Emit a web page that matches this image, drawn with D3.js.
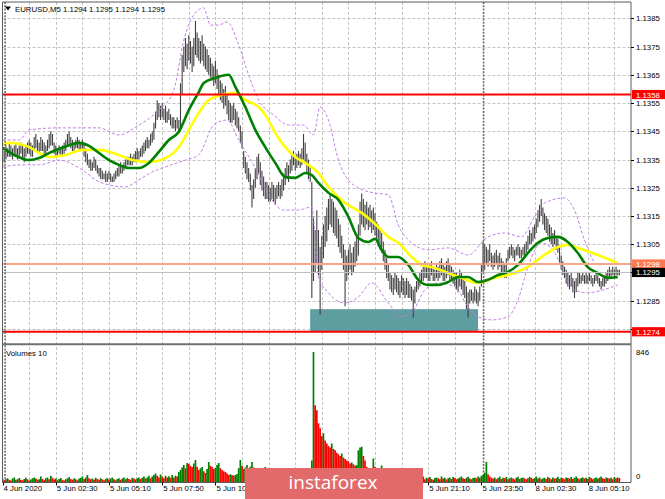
<!DOCTYPE html>
<html><head><meta charset="utf-8">
<script src="https://cdn.jsdelivr.net/npm/d3@7"></script>
<style>
html,body{margin:0;padding:0;background:#fff;overflow:hidden;}
svg{display:block;font-family:"Liberation Sans",Arial,sans-serif;}
</style></head><body>
<svg id="c" width="665" height="499"></svg>
<script>
// ---------------- DATA (prices stored as pips above BASE) ----------------
const BASE = 1.1200;
const symbolTitle = "EURUSD,M5  1.1294 1.1295 1.1294 1.1295";
const highs = [
139,138,140,139,141,140,139,140,141,139, 140,141,140,139,140,141,142,141,140,143,
144,142,141,143,142,141,140,142,144,145, 144,141,140,139,140,139,140,141,142,144,
145,143,142,141,142,143,142,141,142,141, 139,137,135,135,134,136,135,133,132,132,
131,130,131,130,131,130,129,130,131,132, 133,134,133,134,135,136,136,137,136,137,
138,139,138,139,140,141,142,143,142,144, 145,148,152,156,155,154,155,153,154,152,
153,151,150,150,149,150,149,162,172,175, 178,176,179,177,175,178,184,180,178,177,
179,176,175,174,172,171,169,168,170,167, 165,163,162,160,161,158,156,155,154,155,
153,152,150,147,145,138,136,134,132,130, 126,128,132,136,137,134,131,129,127,127,
126,125,127,126,125,126,127,126,128,130, 132,134,133,135,137,138,136,137,138,137,
139,144,141,137,135,133,127,115,110,117, 110,104,108,112,115,118,121,123,121,120,
118,117,114,112,108,105,103,101,103,105, 102,104,106,108,112,120,123,121,119,120,
118,119,117,118,116,113,112,110,109,106, 103,100,98,95,94,93,95,94,93,92,
94,93,92,93,92,91,90,89,90,92, 93,95,96,97,99,98,97,98,99,97,
96,98,97,99,100,98,97,99,100,98, 97,96,95,95,94,96,95,93,92,90,
88,89,89,88,90,89,88,90,98,106, 105,104,103,105,102,101,102,103,101,102,
100,99,98,100,103,104,105,104,103,104, 105,104,103,104,105,106,108,110,109,111,
112,114,117,119,121,118,116,115,114,112, 111,109,110,108,107,104,101,99,97,96,
95,94,95,93,92,93,95,95,94,95, 94,95,94,95,94,93,94,95,94,93,
92,93,94,95,96,97,96,97,96,97, 96,96];
const lows = [
133,134,135,136,136,136,135,137,136,135, 136,137,135,134,136,137,137,136,136,138,
139,138,137,138,138,137,137,138,139,140, 140,137,136,136,137,136,136,137,138,140,
140,139,138,138,139,139,138,138,138,136, 134,133,132,131,131,132,131,130,129,128,
128,128,127,127,128,127,127,127,128,129, 129,130,130,131,132,133,133,133,133,134,
134,135,135,136,136,137,138,139,139,140, 141,142,146,149,150,149,150,149,148,148,
149,147,146,146,145,146,145,145,158,166, 168,167,170,169,166,168,172,171,170,169,
170,168,167,166,165,164,163,161,162,160, 158,156,155,153,154,151,149,148,148,149,
147,146,145,141,139,132,130,128,127,124, 118,121,125,128,130,126,124,122,121,121,
120,120,121,120,119,121,122,121,122,124, 126,128,127,130,131,133,131,132,133,132,
133,135,134,130,128,127,86,92,95,98, 94,80,96,100,104,106,110,112,111,109,
108,107,104,102,100,96,83,92,94,96, 94,95,97,99,101,108,112,111,110,112,
110,111,109,110,108,106,104,103,102,99, 96,93,92,89,88,87,89,88,87,86,
88,87,86,87,86,86,85,79,84,88, 89,90,91,92,93,93,92,92,94,92,
92,93,92,93,94,92,92,93,94,92, 92,91,90,89,88,90,89,87,86,82,
79,84,85,84,85,84,83,85,90,95, 96,98,97,99,97,96,97,98,96,97,
95,94,93,93,99,100,101,100,99,101, 101,100,100,101,101,102,103,105,105,106,
107,109,111,113,115,112,110,109,108,106, 105,104,105,103,102,98,96,94,93,91,
90,89,90,88,86,88,90,91,91,92, 91,91,91,92,91,90,91,92,91,90,
89,90,90,91,92,93,93,94,93,94, 94,94];
const volumes = [
20,12,18,25,15,10,22,30,14,18, 26,15,12,20,28,18,10,16,24,30,
22,14,18,35,20,12,25,30,18,40, 28,16,22,12,20,26,15,10,18,24,
32,20,14,25,18,12,22,28,35,20, 30,45,25,18,22,15,28,20,14,24,
18,12,20,26,16,22,30,18,12,20, 25,15,22,30,18,26,20,14,28,22,
16,24,30,20,28,35,22,30,40,25, 35,45,55,40,30,48,35,25,40,30,
38,28,45,30,40,35,
65,78,95,110,90,124,118,105,98,120, 143,100,78,90,98,70,59,85,130,105,
98,85,91,110,124,90,78,70,65,55, 46,50,45,40,46,52,90,143,105,85,
95,110,85,100,130,95,80,85,70,65, 75,85,98,60,55,65,50,60,55,48,
65,60,52,70,62,58,50,64,58,45, 52,60,45,52,65,85,70,60,66,85,
140,846,500,467,382,350,300,317,270,251, 235,225,251,215,206,190,180,170,186,160,
150,140,135,120,127,115,105,110,206,225, 230,170,140,100,80,75,90,153,100,90,
80,75,108,70,65,
60,55,50,58,45,52,48,40,55,45, 50,42,38,46,40,35,44,38,42,36,
30,22,35,18,28,25,32,20,15,26, 30,24,18,35,22,28,16,25,30,20,
32,26,18,22,30,35,24,20,28,34, 22,18,26,30,24,35,28,40,45,
60,130,50,35,28,
22,30,18,26,35,20,28,24,32,18, 25,30,22,16,28,34,20,26,30,22,
18,24,32,28,20,26,35,22,30,18, 24,28,20,32,26,18,30,22,25,34,
20,28,24,18,30,26,22,32,20,28, 35,24,18,26,30,22,28,20,34,26,
18,24,30,22,28,36,24,20,30,26, 22,28,18,32,24,30,26];
// moving averages / bands: [bar index, pips above BASE]
const maGreen = [[0,139.1],[7,136.6],[16,134.8],[22,135.5],[28,137.3],[37,139.4],[46,140.9],[52,139.8],[58,137.3],[64,134.8],[70,133.1],[76,132.0],[82,132.0],[88,133.8],[94,137.7],[100,141.9],[106,144.8],[112,152.5],[118,158.9],[121,162.1],[128,163.9],[136,165.0],[140,160.7],[146,153.6],[152,145.5],[158,139.4],[164,133.8],[170,128.8],[176,128.5],[182,130.2],[186,129.5],[190,126.7],[196,123.2],[202,120.7],[208,114.7],[214,107.2],[220,105.8],[224,106.9],[228,103.0],[232,100.5],[238,100.5],[244,97.7],[250,92.4],[256,90.6],[262,90.6],[268,91.6],[274,93.4],[280,93.4],[286,91.6],[292,92.4],[298,94.1],[304,95.2],[310,97.7],[316,101.9],[322,105.5],[328,107.2],[334,107.6],[340,105.8],[346,101.9],[352,96.9],[358,94.8],[364,93.1],[370,93.4]];
const maYellow = [[0,140.2],[4,140.9],[16,139.4],[22,137.3],[28,135.9],[38,136.6],[48,138.4],[58,138.4],[70,136.6],[78,134.8],[88,134.1],[98,135.5],[106,139.4],[112,145.5],[118,151.5],[124,156.1],[132,157.9],[140,158.6],[146,156.1],[154,153.6],[158,150.8],[164,144.4],[170,139.4],[176,135.9],[182,133.8],[190,130.2],[196,125.3],[206,119.6],[216,116.1],[226,111.1],[232,107.6],[238,105.5],[246,100.5],[252,97.7],[260,96.6],[268,94.8],[276,93.1],[286,91.3],[296,93.1],[304,94.1],[316,97.0],[326,101.2],[334,104.0],[340,104.7],[346,103.7],[358,101.2],[370,98.4]];
const bandUpper = [[0,141.9],[10,141.9],[16,145.5],[34,146.2],[58,146.2],[70,143.7],[82,147.2],[94,152.5],[103,159.6],[109,177.3],[115,186.2],[121,188.7],[125,182.6],[130,182.6],[135,183.7],[142,175.6],[148,164.9],[154,156.1],[163,150.8],[172,147.2],[181,147.2],[187,143.7],[191,153.6],[196,149.0],[202,134.8],[211,126.0],[223,123.2],[232,122.5],[238,111.8],[246,105.5],[256,103.0],[268,103.7],[280,101.2],[292,107.6],[302,109.0],[312,107.6],[320,114.7],[326,119.6],[338,121.4],[344,117.1],[350,106.5],[358,97.7],[370,98.7]];
const bandLower = [[0,132.4],[10,133.1],[22,133.1],[34,134.8],[48,131.3],[58,127.1],[74,125.3],[82,127.8],[90,130.6],[98,132.4],[110,134.8],[118,136.6],[127,147.2],[135,149.0],[142,141.9],[151,133.1],[160,122.5],[169,117.1],[178,117.1],[186,118.2],[190,93.4],[196,87.8],[206,84.2],[214,86.3],[222,91.3],[232,84.2],[240,79.3],[246,80.7],[254,88.8],[262,91.3],[272,89.9],[280,82.8],[286,79.3],[294,78.2],[304,79.3],[310,85.3],[316,97.0],[324,105.5],[331,103.0],[337,95.9],[344,88.8],[352,87.8],[361,88.8],[370,90.6]];
const priceTicks = [1.1385,1.1375,1.1365,1.1355,1.1345,1.1335,1.1325,1.1315,1.1305,1.1295,1.1285,1.1275];
const timeLabels = ["4 Jun 2020","5 Jun 02:30","5 Jun 05:10","5 Jun 07:50","5 Jun 10:30","5 Jun 13:10","5 Jun 15:50","5 Jun 18:30","5 Jun 21:10","5 Jun 23:50","8 Jun 02:30","8 Jun 05:10"];
const levelRed = [1.1358, 1.1274];
const levelOrange = 1.1298;
const lastPrice = 1.1295;
const zone = {start:185, end:286, top:1.1282, bottom:1.1274};
const volMax = 846;
const daySeparators = [1.5, 289.3];

// ---------------- LAYOUT ----------------
const svg = d3.select("#c");
const L = 2.5, R = 631, mT = 2, mB = 343.5, vT = 345.5, vB = 482.5;
const LOGO = {x:245, y:468, w:178, h:31};
const N = highs.length;
const x = d3.scaleLinear().domain([0, 371]).range([2.6, 2.6 + 371*1.6625]);
const y = d3.scaleLinear().domain([1.1285, 1.1385]).range([300.7, 18.3]);
const yv = d3.scaleLinear().domain([0, volMax]).range([482, 352]);
const P = v => BASE + v/10000;

svg.append("rect").attr("width",665).attr("height",499).attr("fill","#fff");
const defs = svg.append("defs");
defs.append("clipPath").attr("id","cm").append("rect").attr("x",L).attr("y",mT).attr("width",R-L).attr("height",mB-mT);
defs.append("clipPath").attr("id","cv").append("rect").attr("x",L).attr("y",vT).attr("width",R-L).attr("height",vB-vT);

const gridCol = "#c4c4c4";
const gIdx = d3.range(16, 372, 16).filter(i => i !== 288);
svg.append("g").selectAll("line").data(gIdx).join("line")
  .attr("x1", d => Math.round(x(d))+0.5).attr("x2", d => Math.round(x(d))+0.5)
  .attr("y1", mT).attr("y2", vB)
  .attr("stroke", gridCol).attr("stroke-dasharray","3,2");
svg.append("g").selectAll("line").data(priceTicks).join("line")
  .attr("x1", L).attr("x2", R)
  .attr("y1", d => Math.round(y(d))+0.5).attr("y2", d => Math.round(y(d))+0.5)
  .attr("stroke", gridCol).attr("stroke-dasharray","3,2");

const main = svg.append("g").attr("clip-path","url(#cm)");
main.append("rect")
  .attr("x", x(zone.start)).attr("width", x(zone.end)-x(zone.start))
  .attr("y", y(zone.top)).attr("height", y(zone.bottom)-y(zone.top))
  .attr("fill","#5f9ea0");

svg.append("g").selectAll("line").data(daySeparators).join("line")
  .attr("x1", d => x(d)).attr("x2", d => x(d)).attr("y1", mT).attr("y2", vB)
  .attr("stroke","#6a6a6a").attr("stroke-width",1.6).attr("stroke-dasharray","2,1.3");

main.append("g").selectAll("line").data(d3.range(N)).join("line")
  .attr("x1", i => x(i)).attr("x2", i => x(i))
  .attr("y1", i => y(P(highs[i]))).attr("y2", i => y(P(lows[i])))
  .attr("stroke","#404040").attr("stroke-width",1.1);

const lineGen = d3.line().x(d => x(d[0])).y(d => y(P(d[1]))).curve(d3.curveMonotoneX);
[bandUpper, bandLower].forEach(b => main.append("path").attr("d", lineGen(b))
  .attr("fill","none").attr("stroke","#c27ee6").attr("stroke-width",1).attr("stroke-dasharray","3,2"));
main.append("path").attr("d", lineGen(maYellow)).attr("fill","none").attr("stroke","#ffff00").attr("stroke-width",2.6);
main.append("path").attr("d", lineGen(maGreen)).attr("fill","none").attr("stroke","#008000").attr("stroke-width",2.6);

main.append("line").attr("x1",L).attr("x2",R).attr("y1",y(lastPrice)).attr("y2",y(lastPrice)).attr("stroke","#c0c0c0").attr("stroke-width",1);
main.append("line").attr("x1",L).attr("x2",R).attr("y1",y(levelOrange)).attr("y2",y(levelOrange)).attr("stroke","#f8a58a").attr("stroke-width",1.8);
main.selectAll(".lv").data(levelRed).join("line").attr("class","lv")
  .attr("x1",L).attr("x2",R).attr("y1",d=>y(d)).attr("y2",d=>y(d)).attr("stroke","#ff0000").attr("stroke-width",2);

const vol = svg.append("g").attr("clip-path","url(#cv)");
vol.selectAll("line").data(d3.range(volumes.length)).join("line")
  .attr("x1", i => x(i)).attr("x2", i => x(i))
  .attr("y1", yv(0)).attr("y2", i => yv(volumes[i]))
  .attr("stroke", i => (i > 0 && volumes[i] > volumes[i-1]) ? "#008000" : "#ff0000")
  .attr("stroke-width", 1.7);

const frame = svg.append("g").attr("fill","none").attr("stroke","#5a5a5a");
frame.append("line").attr("x1",L).attr("x2",L).attr("y1",mT).attr("y2",vB);
frame.append("line").attr("x1",R).attr("x2",R).attr("y1",mT).attr("y2",vB);
frame.append("line").attr("x1",L).attr("x2",R).attr("y1",mT).attr("y2",mT);
frame.append("line").attr("x1",L).attr("x2",R).attr("y1",344.3).attr("y2",344.3).attr("stroke-width",2).attr("stroke","#707070");
frame.append("line").attr("x1",L).attr("x2",R).attr("y1",vB).attr("y2",vB);

svg.append("path").attr("d","M5,6.5 L11,6.5 L8,10.5 Z").attr("fill","#000");
svg.append("text").attr("x",15).attr("y",12).attr("font-size",7.8).attr("fill","#000").text(symbolTitle);
svg.append("text").attr("x",6).attr("y",356).attr("font-size",7.8).attr("fill","#000").text("Volumes 10");

const ax = svg.append("g").attr("font-size",7.8).attr("fill","#000");
ax.selectAll("line").data(priceTicks).join("line")
  .attr("x1",R).attr("x2",R+3).attr("y1",d=>Math.round(y(d))+0.5).attr("y2",d=>Math.round(y(d))+0.5).attr("stroke","#000");
// the lowest tick label sits under the 1.1274 box; only its top shows
defs.append("clipPath").attr("id","cax").append("rect").attr("x",R).attr("y",0).attr("width",40).attr("height",y(levelRed[1])-4.6);
ax.selectAll("text").data(priceTicks).join("text")
  .attr("x",636).attr("y",d=>y(d)+3)
  .attr("clip-path", d => Math.abs(y(d)-y(levelRed[1])) < 9 ? "url(#cax)" : null)
  .text(d=>d.toFixed(4));
ax.append("text").attr("x",636).attr("y",355).text(String(volMax));
ax.append("text").attr("x",636).attr("y",479).text("0");

function box(v, fill, tcol){
  const g = svg.append("g");
  g.append("rect").attr("x",632).attr("y",y(v)-4.6).attr("width",33).attr("height",9.2).attr("fill",fill);
  g.append("text").attr("x",636).attr("y",y(v)+3).attr("font-size",7.8).attr("fill",tcol).text(v.toFixed(4));
}
levelRed.forEach(v => box(v, "#ff0000", "#fff"));
box(levelOrange, "#ff7a52", "#fff");
box(lastPrice, "#000", "#fff");

// time axis (labels fully covered by the logo overlay are not drawn, as in the reference)
const tIdx = timeLabels.map((_, k) => k*32);
const tx = svg.append("g").attr("font-size",7.8).attr("fill","#000");
tx.selectAll("line").data(tIdx).join("line")
  .attr("x1",d=>Math.round(x(d))+0.5).attr("x2",d=>Math.round(x(d))+0.5).attr("y1",vB).attr("y2",vB+3).attr("stroke","#000");
tx.selectAll("text").data(timeLabels).join("text")
  .attr("x",(d,k)=>x(tIdx[k])+1).attr("y",491).text(d=>d)
  .each(function(){
    const x0 = +this.getAttribute("x"), w = this.getComputedTextLength();
    if (x0 >= LOGO.x && x0 + w <= LOGO.x + LOGO.w) d3.select(this).remove();
  });
// clip partially covered label so it ends at the logo edge
defs.append("clipPath").attr("id","clab").append("rect").attr("x",0).attr("y",480).attr("width",LOGO.x).attr("height",19);
tx.selectAll("text").filter(function(){ const x0=+this.getAttribute("x"); return x0 < LOGO.x && x0 + this.getComputedTextLength() > LOGO.x; })
  .attr("clip-path","url(#clab)");

const logo = svg.append("g");
logo.append("rect").attr("x",LOGO.x).attr("y",LOGO.y).attr("width",LOGO.w).attr("height",LOGO.h).attr("fill","#e26a6a");
logo.append("text").attr("x",LOGO.x+88).attr("y",489).attr("text-anchor","middle")
  .attr("font-family","'Open Sans','Noto Sans',sans-serif").attr("font-size",19).attr("fill","#fff").text("instaforex");
</script>
</body></html>
